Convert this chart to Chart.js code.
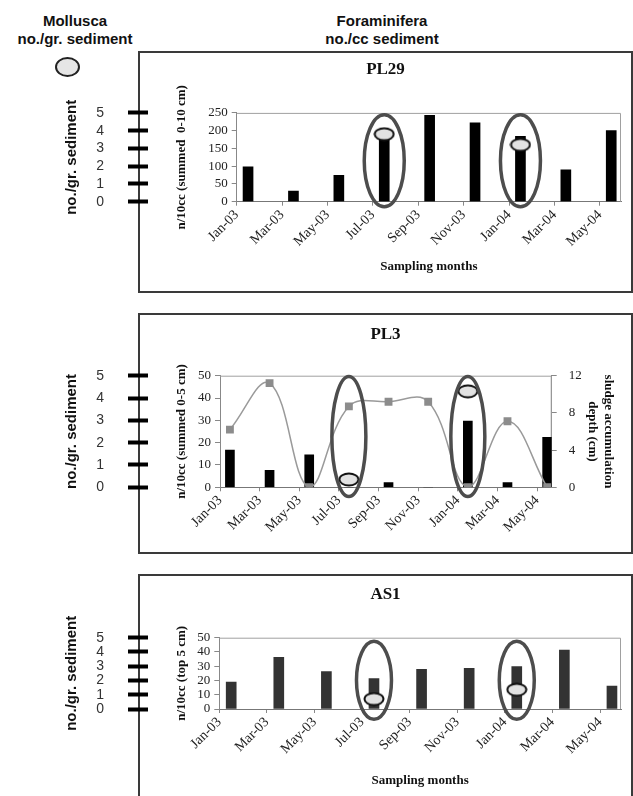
<!DOCTYPE html>
<html>
<head>
<meta charset="utf-8">
<script src="https://cdn.jsdelivr.net/npm/chart.js@4.4.1/dist/chart.umd.min.js"></script>
<style>
  body { margin: 0; background: #fff; width: 633px; height: 796px; overflow: hidden; position: relative; font-family: "Liberation Sans", Arial, sans-serif; }
  .hdr { position: absolute; text-align: center; font-weight: bold; font-size: 15px; line-height: 18px; color: #111; }
  .box { position: absolute; left: 138px; width: 495px; border: 2px solid #3a3a3a; box-sizing: border-box; }
  canvas { position: absolute; left: 0; }
  #legendOval { position: absolute; left: 55px; top: 57px; width: 25px; height: 20px; border: 2px solid #222; border-radius: 50%; background: #e6e6e6; box-sizing: border-box; }
</style>
</head>
<body>
<div class="hdr" style="left:0;top:12px;width:150px">Mollusca<br>no./gr. sediment</div>
<div class="hdr" style="left:282px;top:12px;width:200px">Foraminifera<br>no./cc sediment</div>
<div id="legendOval"></div>
<div class="box" style="top:51px;height:242px"></div>
<div class="box" style="top:313px;height:241px"></div>
<div class="box" style="top:574px;height:240px"></div>
<canvas id="pl29" width="633" height="240" style="top:52px"></canvas>
<canvas id="pl3" width="633" height="239" style="top:314px"></canvas>
<canvas id="as1" width="633" height="221" style="top:575px"></canvas>
<script>
// tick labels, every two months
const months = ['Jan-03', 'Mar-03', 'May-03', 'Jul-03', 'Sep-03', 'Nov-03', 'Jan-04', 'Mar-04', 'May-04'];
// sampling dates in months after 1 Jan 2003 (mid-month samples)
const sampleMonth = [0.5, 2.5, 4.5, 6.5, 8.5, 10.5, 12.5, 14.5, 16.5];

// foraminifera n/10cc
const pl29Foram = [98, 30, 74, 185, 243, 222, 184, 90, 200];
const pl3Foram = [16.7, 7.6, 14.5, 0, 2.1, 0, 29.7, 2.1, 22.4];
const as1Foram = [18.9, 36.2, 26.2, 21.3, 27.8, 28.5, 29.7, 41.4, 16.1];
// sludge accumulation depth (cm), PL3
const pl3Sludge = [6.2, 11.2, 0, 8.7, 9.2, 9.2, 0, 7.1, 0];

// mollusca no./gr. sediment
const molluscaMonths = ['Jul-03', 'Jan-04'];
const pl29Mollusca = [3.8, 3.2];
const pl3Mollusca = [0.35, 4.3];
const as1Mollusca = [0.7, 1.35];

const molluscaX = molluscaMonths.map(m => sampleMonth[months.indexOf(m)]);

Chart.defaults.font.family = "'Liberation Serif', 'Times New Roman', serif";
Chart.defaults.animation = false;

function points(xs, ys) {
  return ys.map((y, i) => ({ x: xs[i], y: y }));
}

// grey oval marker used for mollusca values
const oval = document.createElement('canvas');
oval.width = 22; oval.height = 15;
const oc = oval.getContext('2d');
oc.beginPath();
oc.ellipse(11, 7.5, 9.5, 6, 0, 0, Math.PI * 2);
oc.fillStyle = '#e2e2e2';
oc.fill();
oc.lineWidth = 2;
oc.strokeStyle = '#111';
oc.stroke();

// centre the chart title over the framed box, not the whole canvas
const boxTitle = {
  id: 'boxTitle',
  afterLayout(chart) {
    const t = chart.titleBlock;
    t.left = 138;
    t.right = chart.width;
    t.width = t.right - t.left;
  }
};

// top + right edge of the plot area
const plotFrame = {
  id: 'plotFrame',
  beforeDatasetsDraw(chart) {
    const { ctx, chartArea: a } = chart;
    ctx.save();
    ctx.strokeStyle = '#a0a0a0';
    ctx.lineWidth = 1;
    ctx.beginPath();
    ctx.moveTo(a.left, a.top + 0.5);
    ctx.lineTo(a.right - 0.5, a.top + 0.5);
    ctx.lineTo(a.right - 0.5, a.bottom);
    ctx.stroke();
    ctx.restore();
  }
};

// big rings round the months with mollusca
const highlight = {
  id: 'highlight',
  afterDatasetsDraw(chart, args, opts) {
    const { ctx, chartArea: a, scales: { x } } = chart;
    ctx.save();
    ctx.strokeStyle = '#4d4d4d';
    ctx.lineWidth = 3.5;
    molluscaX.forEach(v => {
      ctx.beginPath();
      ctx.ellipse(x.getPixelForValue(v), (a.top + a.bottom) / 2 + opts.dy, opts.w / 2, opts.h / 2, 0, 0, Math.PI * 2);
      ctx.stroke();
    });
    ctx.restore();
  }
};

function makeChart(id, c) {
  const scales = {
    x: {
      type: 'linear', min: 0, max: c.xMax, offset: false,
      afterFit: s => { s.height = c.xHeight; },
      border: { color: '#777' },
      grid: { drawOnChartArea: false, offset: false, tickLength: 4, color: '#888' },
      ticks: {
        stepSize: 2, includeBounds: false, autoSkip: false, minRotation: 45, maxRotation: 45,
        padding: 1, color: '#222', font: { size: 14 },
        callback: v => months[v / 2] ?? ''
      },
      title: {
        display: !!c.xTitle, text: 'Sampling months', color: '#111',
        font: { size: 13, weight: 'bold' }, padding: { top: 0, bottom: c.xTitlePad || 0 }
      }
    },
    y: {
      position: 'left', weight: 0, min: 0, max: c.yMax,
      afterFit: s => { s.width = c.yWidth; },
      border: { color: '#888' },
      grid: { drawOnChartArea: false, tickLength: 5, color: '#888' },
      ticks: { stepSize: c.yStep, autoSkip: false, padding: 4, color: '#222', font: { size: 13 } },
      title: {
        display: true, text: c.yTitle, color: '#111',
        font: { size: 13, weight: 'bold' }, padding: { top: 26, bottom: 0 }
      }
    },
    moll: {
      position: 'left', weight: 10, min: 0, max: 5,
      afterFit: s => { s.width = 148; },
      border: { display: false },
      grid: { drawOnChartArea: false, tickLength: 20, tickWidth: 4, tickColor: '#000' },
      ticks: { stepSize: 1, autoSkip: false, padding: 24, color: '#333', font: { family: "'Liberation Sans', Arial, sans-serif", size: 14 } },
      title: {
        display: true, text: 'no./gr. sediment', color: '#111',
        font: { family: "'Liberation Sans', Arial, sans-serif", size: 15, weight: 'bold' },
        padding: { top: 63, bottom: 0 }
      }
    }
  };

  const datasets = [
    {
      type: 'line', data: points(molluscaX, c.moll), yAxisID: 'moll',
      showLine: false, pointStyle: oval, pointRadius: 6, order: 0
    },
    {
      type: 'bar', data: points(sampleMonth, c.foram), yAxisID: 'y',
      backgroundColor: c.barColor, barThickness: c.barW, order: 3
    }
  ];

  if (c.sludge) {
    scales.y2 = {
      position: 'right', min: 0, max: 12,
      afterFit: s => { s.width = c.y2Width; },
      border: { color: '#888' },
      grid: { drawOnChartArea: false, tickLength: 5, color: '#888' },
      ticks: { stepSize: 4, autoSkip: false, padding: 12, color: '#222', font: { size: 13 } },
      title: {
        display: true, text: ['sludge accumulation', 'depth (cm)'], color: '#111',
        font: { size: 13, weight: 'bold' }, padding: { top: 7, bottom: 0 }
      }
    };
    datasets.push({
      type: 'line', data: points(sampleMonth, c.sludge), yAxisID: 'y2',
      borderColor: '#9a9a9a', borderWidth: 1.5, tension: 0.4,
      pointStyle: 'rect', pointRadius: 4.5,
      pointBackgroundColor: '#8c8c8c', pointBorderColor: '#8c8c8c', order: 2
    });
  }

  return new Chart(document.getElementById(id), {
    type: 'bar',
    data: { datasets: datasets },
    options: {
      responsive: false,
      layout: { padding: { left: 0, right: c.padRight, top: 0, bottom: 0 } },
      scales: scales,
      plugins: {
        legend: { display: false },
        tooltip: { enabled: false },
        title: {
          display: true, text: c.name, color: '#111',
          font: { size: 17, weight: 'bold' },
          padding: { top: c.tTop, bottom: c.tBottom }
        },
        highlight: c.ring
      }
    },
    plugins: [boxTitle, plotFrame, highlight]
  });
}

makeChart('pl29', {
  name: 'PL29', foram: pl29Foram, moll: pl29Mollusca,
  yMax: 250, yStep: 50, yTitle: 'n/10cc (summed  0-10 cm)', yWidth: 88.7,
  xMax: 16.93, xHeight: 90.3, xTitle: true, xTitlePad: 18,
  tTop: 7, tBottom: 33.5, padRight: 12, barW: 10, barColor: '#000',
  ring: { w: 40, h: 92, dy: 3.5 }
});

makeChart('pl3', {
  name: 'PL3', foram: pl3Foram, moll: pl3Mollusca, sludge: pl3Sludge,
  yMax: 50, yStep: 10, yTitle: 'n/10cc (summed 0-5 cm)', yWidth: 72, y2Width: 71.3,
  xMax: 16.73, xHeight: 65.7, xTitle: false,
  tTop: 10.8, tBottom: 30.5, padRight: 10, barW: 9, barColor: '#000',
  ring: { w: 34, h: 120, dy: 5 }
});

makeChart('as1', {
  name: 'AS1', foram: as1Foram, moll: as1Mollusca,
  yMax: 50, yStep: 10, yTitle: 'n/10cc (top 5 cm)', yWidth: 71.3,
  xMax: 16.88, xHeight: 87, xTitle: true, xTitlePad: 8,
  tTop: 9.8, tBottom: 32.5, padRight: 12, barW: 10, barColor: '#333',
  ring: { w: 35, h: 78, dy: 7 }
});
</script>
</body>
</html>
